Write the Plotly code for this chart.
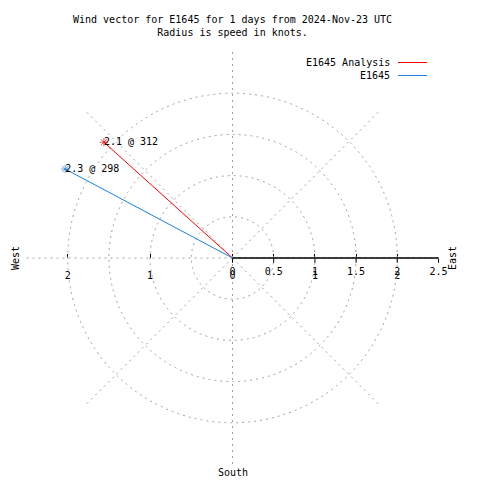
import plotly.graph_objects as go

# ---- data ----
series_names = ["E1645 Analysis", "E1645"]
speeds = [2.1, 2.3]          # knots
directions = [312, 298]      # degrees (compass)
colors = ["#ff0000", "#1a80e6"]
radial_ticks = [0, 0.5, 1, 1.5, 2, 2.5]
x_tick_vals = [-2, -1, 0, 0.5, 1, 1.5, 2, 2.5]
x_tick_text = ["2", "1", "0", "", "1", "", "2", ""]
compass_labels = ["West", "East", "South"]
title_lines = ["Wind vector for E1645 for 1 days from 2024-Nov-23 UTC",
               "Radius is speed in knots."]

FONT = "DejaVu Sans Mono"
W = H = 480
OFF = 8  # page body margin in the browser
cx, cy, R = 232.5 - OFF, 258.0 - OFF, 206.0
dom_x = [(cx - R) / W, (cx + R) / W]
dom_y = [1 - (cy + R) / H, 1 - (cy - R) / H]

def px(x):
    return (x - OFF) / W

def py(y):
    return 1 - (y - OFF) / H

fig = go.Figure()
for name, s, d, c in zip(series_names, speeds, directions, colors):
    fig.add_trace(go.Scatterpolar(
        r=[0, s], theta=[0, d], mode="lines+markers",
        line=dict(color=c, width=1),
        marker=dict(symbol="asterisk-open", size=[0, 7], color=c, line=dict(color=c, width=1)),
        name=name, showlegend=False, cliponaxis=False, hoverinfo="skip"))
    fig.add_trace(go.Scatterpolar(
        r=[s], theta=[d], mode="text",
        text=[f"{s} @ {d}"], textposition="middle right",
        textfont=dict(family=FONT, size=10, color="black"),
        showlegend=False, cliponaxis=False, hoverinfo="skip"))

# invisible cartesian trace so that the x axis with its tick labels is drawn
fig.add_trace(go.Scatter(x=x_tick_vals, y=[0] * len(x_tick_vals), mode="markers",
                         marker=dict(opacity=0, size=1), showlegend=False, hoverinfo="skip"))

fig.update_layout(
    width=W, height=H,
    margin=dict(l=0, r=0, t=0, b=0),
    paper_bgcolor="white", plot_bgcolor="rgba(0,0,0,0)",
    font=dict(family=FONT, size=10, color="black"),
    polar=dict(
        domain=dict(x=dom_x, y=dom_y),
        bgcolor="rgba(0,0,0,0)",
        angularaxis=dict(rotation=90, direction="clockwise", dtick=45,
                         showticklabels=False, ticks="", showline=False,
                         gridcolor="#a0a0a0", griddash="2px,4px", gridwidth=1),
        radialaxis=dict(range=[0, 2.5001], tickvals=radial_ticks, angle=0, side="clockwise",
                        showline=True, linecolor="black", linewidth=1.5,
                        ticks="outside", ticklen=4, tickcolor="black",
                        gridcolor="#a0a0a0", griddash="2px,4px", gridwidth=1,
                        tickfont=dict(family=FONT, size=10, color="black"),
                        tickangle=0),
    ),
    xaxis=dict(domain=dom_x, range=[-2.5, 2.5], anchor="free", position=1 - cy / H,
               tickvals=x_tick_vals, ticktext=x_tick_text, ticks="inside", ticklen=4,
               tickcolor="black", tickwidth=1, showgrid=False, zeroline=False, showline=False,
               ticklabelstandoff=10, fixedrange=True,
               tickfont=dict(family=FONT, size=10, color="black")),
    yaxis=dict(visible=False, range=[-1, 1], domain=[0.3, 0.6], fixedrange=True),
)

# title
fig.add_annotation(text="<br>".join(title_lines), x=px(232.5), y=py(12), xref="paper", yref="paper",
                   xanchor="center", yanchor="top", showarrow=False,
                   font=dict(family=FONT, size=10, color="black"))

# compass labels
pos = {"West": (15, 258, -90), "East": (452, 258, -90), "South": (232.5, 472, 0)}
for lab in compass_labels:
    x, y, ang = pos[lab]
    fig.add_annotation(text=lab, x=px(x), y=py(y), xref="paper", yref="paper",
                       showarrow=False, textangle=ang, xanchor="center", yanchor="middle",
                       font=dict(family=FONT, size=10, color="black"))

# legend (text right-aligned, sample line on the right)
for i, (name, c) in enumerate(zip(series_names, colors)):
    y = 62.5 + 13 * i
    fig.add_annotation(text=name, x=px(392), y=py(y), xref="paper", yref="paper",
                       showarrow=False, xanchor="right", yanchor="middle",
                       font=dict(family=FONT, size=10, color="black"))
    fig.add_shape(type="line", xref="paper", yref="paper",
                  x0=px(398), x1=px(427), y0=py(y), y1=py(y),
                  line=dict(color=c, width=1))

fig.write_html("out.html")
